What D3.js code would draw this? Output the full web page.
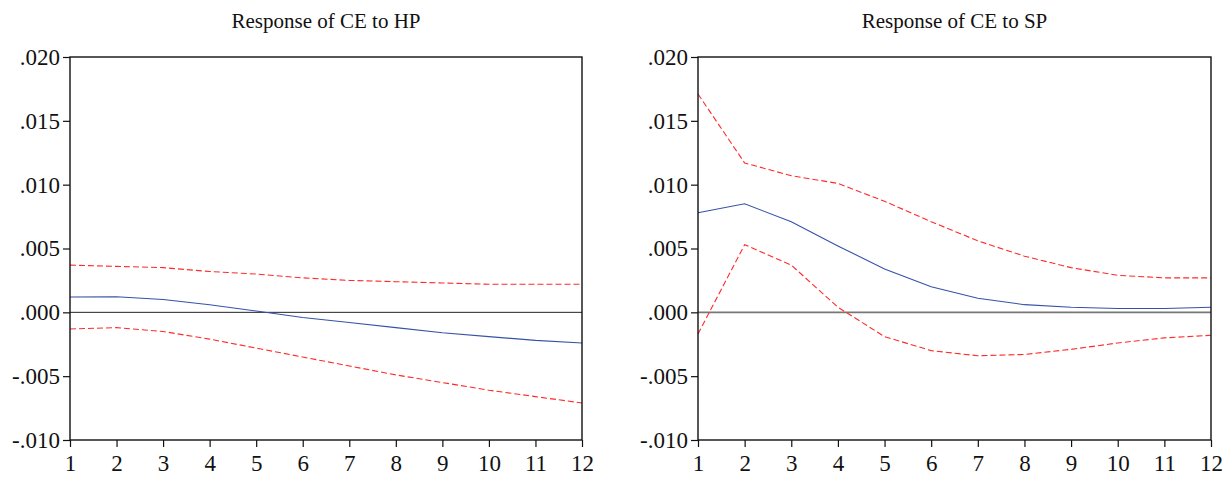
<!DOCTYPE html>
<html>
<head>
<meta charset="utf-8">
<script src="https://cdn.jsdelivr.net/npm/d3@7"></script>
<style>
  body { margin: 0; background: #fff; }
  .axis path, .axis line { stroke: #111; }
</style>
</head>
<body>
<div id="chart"></div>
<script>
// Periods and tick labels
const periods = [1, 2, 3, 4, 5, 6, 7, 8, 9, 10, 11, 12];
const yTicks = [-0.010, -0.005, 0.000, 0.005, 0.010, 0.015, 0.020];

// Response of CE to HP
const hpResponse = [0.0012, 0.00122, 0.0010, 0.0006, 0.0001, -0.0004, -0.0008, -0.0012, -0.0016, -0.0019, -0.0022, -0.0024];
const hpUpper = [0.0037, 0.0036, 0.0035, 0.0032, 0.0030, 0.0027, 0.0025, 0.0024, 0.0023, 0.0022, 0.0022, 0.0022];
const hpLower = [-0.0013, -0.0012, -0.0015, -0.0021, -0.0028, -0.0035, -0.0042, -0.0049, -0.0055, -0.0061, -0.0066, -0.0071];

// Response of CE to SP
const spResponse = [0.0078, 0.0085, 0.0071, 0.0052, 0.0034, 0.0020, 0.0011, 0.0006, 0.0004, 0.0003, 0.0003, 0.0004];
const spUpper = [0.0171, 0.0117, 0.0107, 0.0101, 0.0087, 0.0071, 0.0056, 0.0044, 0.0035, 0.0029, 0.0027, 0.0027];
const spLower = [-0.0017, 0.0053, 0.0037, 0.0004, -0.0019, -0.0030, -0.0034, -0.0033, -0.0029, -0.0024, -0.0020, -0.0018];

const serif = "'Liberation Serif', 'Times New Roman', Times, serif";

const svg = d3.select("#chart")
    .append("svg")
    .attr("width", 1226)
    .attr("height", 478);

const plotTop = 57, plotBottom = 440;

function panel(title, left, right, resp, upper, lower, zeroStyle) {
    const x = d3.scaleLinear().domain([1, 12]).range([left, right]);
    const y = d3.scaleLinear().domain([-0.010, 0.020]).range([plotBottom, plotTop]);
    const g = svg.append("g");

    // zero line
    g.append("line")
        .attr("x1", left).attr("x2", right)
        .attr("y1", y(0)).attr("y2", y(0))
        .attr("stroke", zeroStyle.color)
        .attr("stroke-width", zeroStyle.width);

    const line = d3.line().x((d, i) => x(periods[i])).y(d => y(d));

    [upper, lower].forEach(s => {
        g.append("path")
            .datum(s)
            .attr("d", line)
            .attr("fill", "none")
            .attr("stroke", "#ff2a2a")
            .attr("stroke-width", 1.1)
            .attr("stroke-dasharray", "6,3");
    });

    g.append("path")
        .datum(resp)
        .attr("d", line)
        .attr("fill", "none")
        .attr("stroke", "#3552a8")
        .attr("stroke-width", 1.1);

    // frame
    g.append("rect")
        .attr("x", left).attr("y", plotTop)
        .attr("width", right - left).attr("height", plotBottom - plotTop)
        .attr("fill", "none")
        .attr("stroke", "#111")
        .attr("stroke-width", 1.4);

    const yAxis = d3.axisLeft(y)
        .tickValues(yTicks)
        .tickSize(7)
        .tickPadding(3)
        .tickFormat(d => d3.format(".3f")(d).replace("0.", ".").replace("−", "-"));

    const yg = g.append("g")
        .attr("class", "axis")
        .attr("transform", `translate(${left},0)`)
        .call(yAxis);
    yg.select(".domain").remove();
    yg.selectAll("line").attr("stroke-width", 1.2);
    yg.selectAll("text")
        .style("font-family", serif)
        .style("font-size", "23px")
        .attr("fill", "#111");

    const xAxis = d3.axisBottom(x)
        .tickValues(periods)
        .tickSize(7)
        .tickPadding(8)
        .tickFormat(d3.format("d"));

    const xg = g.append("g")
        .attr("class", "axis")
        .attr("transform", `translate(0,${plotBottom})`)
        .call(xAxis);
    xg.select(".domain").remove();
    xg.selectAll("line").attr("stroke-width", 1.2);
    xg.selectAll("text")
        .style("font-family", serif)
        .style("font-size", "23px")
        .attr("fill", "#111");

    g.append("text")
        .attr("x", (left + right) / 2)
        .attr("y", 28)
        .attr("text-anchor", "middle")
        .style("font-family", serif)
        .style("font-size", "21px")
        .attr("fill", "#111")
        .text(title);
}

panel("Response of CE to HP", 70, 582, hpResponse, hpUpper, hpLower, { color: "#222", width: 1 });
panel("Response of CE to SP", 698, 1211, spResponse, spUpper, spLower, { color: "#777", width: 1.6 });
</script>
</body>
</html>
